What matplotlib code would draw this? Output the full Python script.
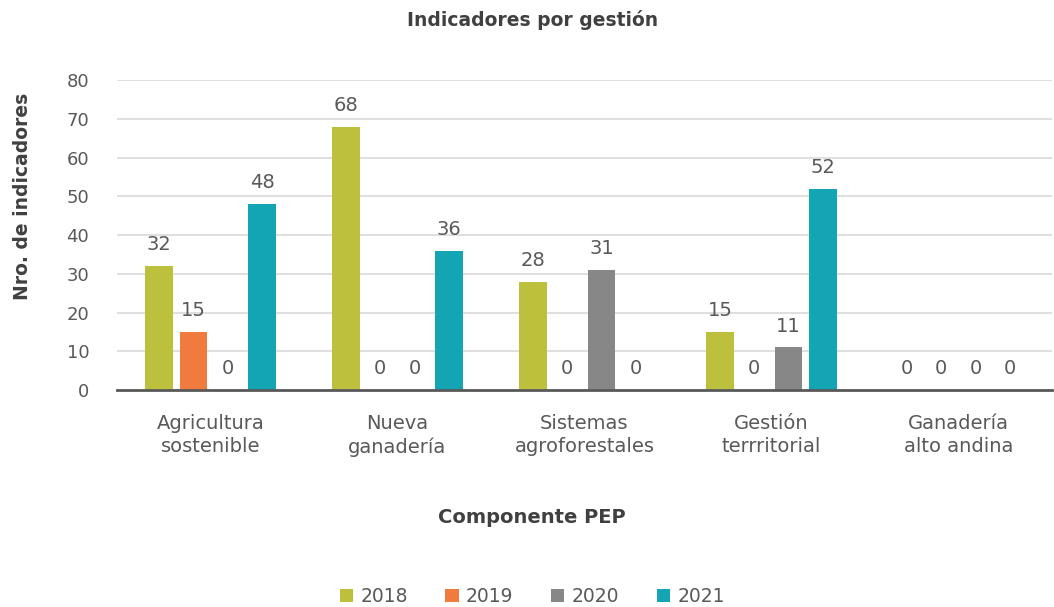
import numpy as np
import matplotlib.pyplot as plt

categories = ["Agricultura\nsostenible", "Nueva\nganadería", "Sistemas\nagroforestales",
              "Gestión\nterrritorial", "Ganadería\nalto andina"]
years = ["2018", "2019", "2020", "2021"]
v2018 = [32, 68, 28, 15, 0]
v2019 = [15, 0, 0, 0, 0]
v2020 = [0, 0, 31, 11, 0]
v2021 = [48, 36, 0, 52, 0]
series = [v2018, v2019, v2020, v2021]
colors = ["#BDC03D", "#F07B3F", "#878787", "#13A5B3"]

txt = "#595959"
plt.rcParams['font.family'] = ['DejaVu Sans']

fig = plt.figure(figsize=(10.54, 6.07), dpi=100)
ax = fig.add_axes([0.111, 0.3575, 0.887, 0.5105])

x = np.arange(len(categories))
step = 0.184
width = 0.147
for i, (vals, c, yr) in enumerate(zip(series, colors, years)):
    pos = x + (i - 1.5) * step
    ax.bar(pos, vals, width=width, color=c, label=yr, zorder=3)
    for p, v in zip(pos, vals):
        ax.text(p, v + 3.0, f"{v}", ha="center", va="bottom", fontsize=14,
                color=txt, zorder=4)

ax.set_xlim(-0.5, 4.5)
ax.set_ylim(0, 80)
ax.set_yticks(range(0, 81, 10))
ax.grid(axis="y", color="#D9D9D9", linewidth=1.2, zorder=0)
ax.set_xticks(x)
ax.set_xticklabels(categories, fontsize=14, color=txt, linespacing=1.3)
ax.tick_params(axis="x", length=0, pad=17)
ax.tick_params(axis="y", length=0, labelsize=13, labelcolor=txt, pad=20)
for s in ["top", "right", "left"]:
    ax.spines[s].set_visible(False)
ax.spines["bottom"].set_color("#595959")
ax.spines["bottom"].set_linewidth(2)
ax.spines["bottom"].set_zorder(5)

fig.text(0.505, 0.967, "Indicadores por gestión", ha="center", va="center",
         fontsize=13.5, fontweight="bold", color="#404040")
fig.text(0.505, 0.148, "Componente PEP", ha="center", va="center",
         fontsize=14, fontweight="bold", color="#404040")
fig.text(0.021, 0.677, "Nro. de indicadores", ha="center", va="center",
         rotation=90, fontsize=13.5, fontweight="bold", color="#404040")

fig.legend(loc="center", bbox_to_anchor=(0.505, 0.017), ncol=4, frameon=False,
           fontsize=13.5, handlelength=0.7, handleheight=0.7, handletextpad=0.4,
           columnspacing=2.0, labelcolor=txt)

fig.savefig("out.png", dpi=100)
